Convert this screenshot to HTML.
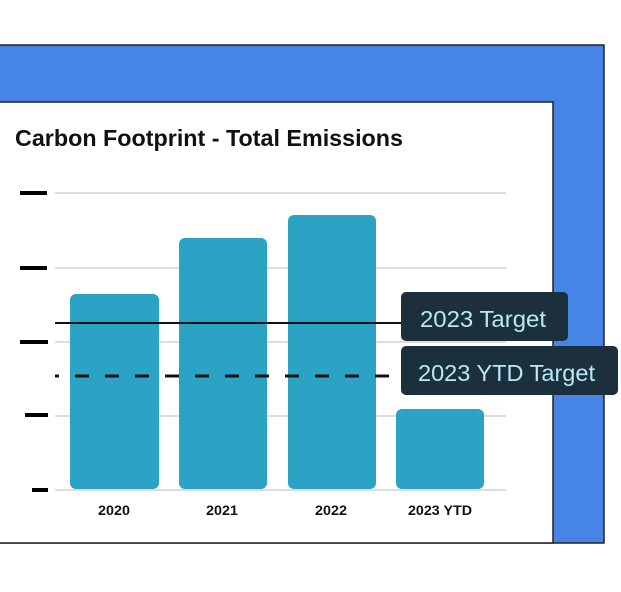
<!DOCTYPE html>
<html><head><style>
body{margin:0;width:621px;height:587px;background:#fff;overflow:hidden;font-family:"Liberation Sans",sans-serif}
</style></head><body>
<svg width="621" height="587" xmlns="http://www.w3.org/2000/svg">
<rect x="-2" y="45" width="606" height="498" fill="#4684e6" stroke="#222" stroke-width="1.5"/>
<rect x="-2" y="102" width="555" height="441" fill="#fff" stroke="#222" stroke-width="1.5"/>
<text x="15" y="146" font-size="23" font-weight="bold" fill="#111" textLength="388" lengthAdjust="spacingAndGlyphs">Carbon Footprint - Total Emissions</text>
<g stroke="#ddd" stroke-width="2">
<line x1="55" y1="193" x2="506" y2="193"/><line x1="55" y1="268" x2="506" y2="268"/>
<line x1="55" y1="342" x2="506" y2="342"/><line x1="55" y1="416" x2="506" y2="416"/>
<line x1="55" y1="490" x2="506" y2="490"/></g>
<g stroke="#000" stroke-width="4">
<line x1="20" y1="193" x2="47" y2="193"/><line x1="20" y1="268" x2="47" y2="268"/>
<line x1="20" y1="342" x2="48" y2="342"/><line x1="25" y1="415" x2="48" y2="415"/>
<line x1="32" y1="490" x2="48" y2="490"/></g>
<g fill="#2ba3c5">
<rect x="70" y="294" width="89" height="195" rx="6"/>
<rect x="179" y="238" width="88" height="251" rx="6"/>
<rect x="288" y="215" width="88" height="274" rx="6"/>
<rect x="396" y="409" width="88" height="80" rx="6"/></g>
<line x1="55" y1="323" x2="402" y2="323" stroke="#111" stroke-width="2"/>
<line x1="55" y1="376" x2="402" y2="376" stroke="#111" stroke-width="3" stroke-dasharray="14,16" stroke-dashoffset="10"/>
<rect x="401" y="292" width="167" height="49" rx="5" fill="#1b2f3c"/>
<rect x="401" y="346" width="217" height="49" rx="5" fill="#1b2f3c"/>
<text x="420" y="327" font-size="23" fill="#b8eaf5" textLength="126" lengthAdjust="spacingAndGlyphs">2023 Target</text>
<text x="418" y="381" font-size="23" fill="#b8eaf5" textLength="177" lengthAdjust="spacingAndGlyphs">2023 YTD Target</text>
<g font-size="14" font-weight="bold" fill="#111" text-anchor="middle">
<text x="114" y="515" textLength="32" lengthAdjust="spacingAndGlyphs">2020</text><text x="222" y="515" textLength="32" lengthAdjust="spacingAndGlyphs">2021</text>
<text x="331" y="515" textLength="32" lengthAdjust="spacingAndGlyphs">2022</text><text x="440" y="515" textLength="64" lengthAdjust="spacingAndGlyphs">2023 YTD</text></g>
</svg>
</body></html>
